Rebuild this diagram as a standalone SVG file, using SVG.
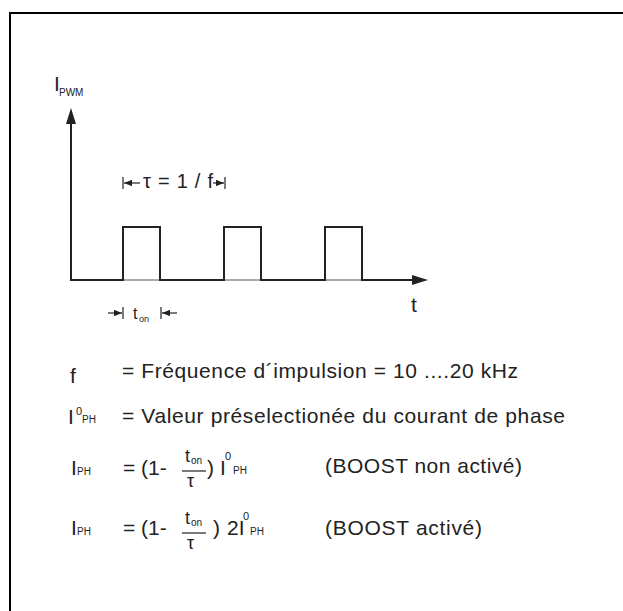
<svg xmlns="http://www.w3.org/2000/svg" width="623" height="611" viewBox="0 0 623 611">
<style>
text{font-family:"Liberation Sans",Arial,sans-serif;fill:#222}
.m{font-size:21px}
.s{font-size:10px}
.sup{font-size:11px}
.ax{stroke:#222;stroke-width:2;fill:none}
.thin{stroke:#555;stroke-width:1;fill:none}
.dim{stroke:#222;stroke-width:1.2;fill:none}
</style>
<defs>
<marker id="ah" viewBox="0 0 10 8" refX="10" refY="4" markerWidth="8" markerHeight="6.5" markerUnits="userSpaceOnUse" orient="auto"><path d="M0,0 L10,4 L0,8 Z" fill="#222"/></marker>
</defs>
<g id="frame">
<line x1="9" y1="13" x2="623" y2="13" stroke="#000" stroke-width="2"/>
<line x1="10" y1="12" x2="10" y2="611" stroke="#000" stroke-width="2"/>
</g>
<g id="connectors">
<line class="ax" x1="71" y1="281" x2="71" y2="122"/>
<polygon points="71,108 66,124 76,124" fill="#222"/>
<line class="thin" x1="71" y1="280" x2="414" y2="280"/>
<polygon points="428,280 412,275 412,285" fill="#222"/>
<path class="ax" d="M71,280 H123 V227 H160 V280 H224 V227 H261 V280 H325 V227 H362 V280 H414"/>
<line class="dim" x1="123" y1="177" x2="123" y2="189"/>
<line class="dim" x1="140" y1="183" x2="124" y2="183" marker-end="url(#ah)"/>
<line class="dim" x1="213" y1="183" x2="224" y2="183" marker-end="url(#ah)"/>
<line class="dim" x1="225" y1="177" x2="225" y2="189"/>
<line class="dim" x1="108" y1="313" x2="122" y2="313" marker-end="url(#ah)"/>
<line class="dim" x1="123" y1="307" x2="123" y2="319"/>
<line class="dim" x1="161" y1="307" x2="161" y2="319"/>
<line class="dim" x1="177" y1="313" x2="162" y2="313" marker-end="url(#ah)"/>
<line class="dim" x1="182" y1="471" x2="206" y2="471"/>
<line class="dim" x1="182" y1="533" x2="206" y2="533"/>
</g>
<g id="labels">
<text class="m" x="54" y="91">I</text><text class="s" x="59" y="96">PWM</text>
<text x="143" y="188" font-size="20" textLength="70">τ = 1 / f</text>
<text class="m" x="411" y="312">t</text>
<text x="133" y="319" font-size="16">t</text><text x="139" y="322" font-size="9">on</text>
</g>
<g id="legend">
<text class="m" x="70" y="383">f</text>
<text class="m" x="122" y="378" textLength="396">= Fréquence d´impulsion = 10 ....20 kHz</text>
<text class="m" x="68" y="424">I</text><text class="sup" x="76" y="415">0</text><text class="s" x="82" y="423">PH</text>
<text class="m" x="122" y="423" textLength="443">= Valeur préselectionée du courant de phase</text>
<text class="m" x="71" y="475">I</text><text class="s" x="77" y="475">PH</text>
<text class="m" x="123" y="475">= (1-</text>
<text x="185" y="462" font-size="18">t</text><text class="s" x="191" y="464">on</text>
<text x="187" y="487" font-size="18">τ</text>
<text class="m" x="207" y="475">)</text>
<text class="m" x="220" y="475">I</text><text class="sup" x="225" y="460">0</text><text class="s" x="233" y="474">PH</text>
<text class="m" x="325" y="473" textLength="197">(BOOST non activé)</text>
<text class="m" x="71" y="535">I</text><text class="s" x="77" y="535">PH</text>
<text class="m" x="123" y="535">= (1-</text>
<text x="185" y="524" font-size="18">t</text><text class="s" x="191" y="526">on</text>
<text x="187" y="549" font-size="18">τ</text>
<text class="m" x="213" y="535">)</text>
<text class="m" x="227" y="535">2I</text><text class="sup" x="243" y="520">0</text><text class="s" x="250" y="535">PH</text>
<text class="m" x="325" y="535" textLength="157">(BOOST activé)</text>
</g>
</svg>
